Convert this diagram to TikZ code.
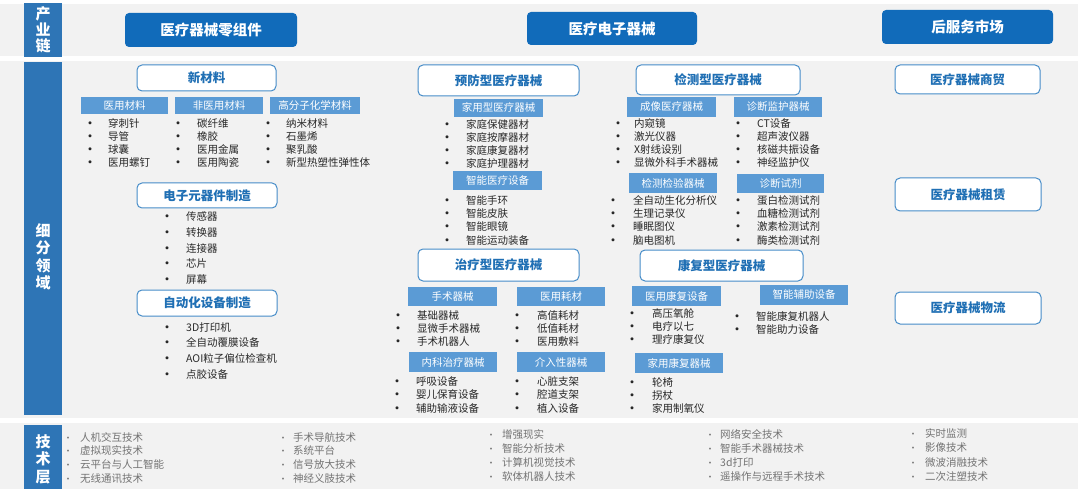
\documentclass[tikz,border=0pt]{standalone}
\usepackage{fontspec}
\setmainfont{Noto Sans CJK SC}
\definecolor{hdrblue}{RGB}{17,107,186}
\definecolor{sideblue}{RGB}{46,117,182}
\definecolor{lblue}{RGB}{91,155,213}
\definecolor{oborder}{RGB}{70,140,200}
\definecolor{otext}{RGB}{31,111,180}
\definecolor{bggray}{RGB}{242,242,242}
\definecolor{itemtext}{RGB}{40,40,40}
\definecolor{techtext}{RGB}{115,115,115}
\newcommand\bx[7]{%
  \node[#1, minimum width={(#5-#3)*1pt}, minimum height={(#6-#4)*1pt}] (#2) at ({(#3+#5)/2},{(#4+#6)/2}) {#7};}
\newcommand\mylist[7]{%
  \foreach \itm [count=\i from 0] in {#7} {
    \node[#1bul] (#2b\i) at (#3,{#5+#6*\i+4}) {•};
    \node[#1item] (#2\i) at (#4,{#5+#6*\i+4}) {\itm};
  }}
\begin{document}
\begin{tikzpicture}[x=1pt,y=-1pt,
  hdr/.style={fill=hdrblue, rounded corners=4pt, text=white, inner sep=0pt, font=\fontsize{14.5}{16}\selectfont\bfseries},
  side/.style={fill=sideblue, inner sep=0pt},
  sidetext/.style={text=white, align=center, inner sep=0pt},
  obox/.style={draw=oborder, line width=1pt, fill=white, rounded corners=5pt, text=otext, inner sep=0pt, font=\fontsize{12.5}{14}\selectfont\bfseries},
  lbox/.style={fill=lblue, text=white, inner sep=0pt, font=\fontsize{10.5}{12}\selectfont},
  nbul/.style={anchor=base, text=itemtext, inner sep=0pt, font=\fontsize{11}{12}\selectfont\bfseries},
  nitem/.style={anchor=base west, text=itemtext, inner sep=0pt, font=\fontsize{10.5}{12}\selectfont},
  tbul/.style={anchor=base, text=techtext, inner sep=0pt, font=\fontsize{9}{10}\selectfont},
  titem/.style={anchor=base west, text=techtext, inner sep=0pt, font=\fontsize{10.5}{12}\selectfont},
]
\useasboundingbox (0,0) rectangle (1080,492);
\fill[white] (0,0) rectangle (1080,492);
% bands
\fill[bggray] (0,4) rectangle (1078,56);
\fill[bggray] (0,61) rectangle (1078,418);
\fill[bggray] (0,423) rectangle (1078,489);
% side bars
\bx{side}{s1}{24}{3}{62}{57}{}
\bx{side}{s2}{24}{62}{62}{415}{}
\bx{side}{s3}{24}{425}{62}{489}{}
\node[sidetext, font=\fontsize{15}{16}\selectfont\bfseries] (s1t) at (43,30) {产\\业\\链};
\node[sidetext, font=\fontsize{15}{17.5}\selectfont\bfseries] (s2t) at (43,257) {细\\分\\领\\域};
\node[sidetext, font=\fontsize{15}{17.5}\selectfont\bfseries] (s3t) at (43,459) {技\\术\\层};
% headers
\bx{hdr}{h1}{125}{13}{297}{47}{医疗器械零组件}
\bx{hdr}{h2}{527}{12}{697}{45}{医疗电子器械}
\bx{hdr}{h3}{882}{10}{1053}{44}{后服务市场}
% outlined boxes
\bx{obox}{o1}{137}{65}{276}{91}{新材料}
\bx{obox}{o2}{137}{183}{277}{208}{电子元器件制造}
\bx{obox}{o3}{137}{290}{277}{316}{自动化设备制造}
\bx{obox}{o4}{418}{65}{579}{96}{预防型医疗器械}
\bx{obox}{o5}{636}{65}{800}{95}{检测型医疗器械}
\bx{obox}{o6}{418}{249}{579}{281}{治疗型医疗器械}
\bx{obox}{o7}{640}{250}{803}{281}{康复型医疗器械}
\bx{obox}{o8}{895}{65}{1040}{94}{医疗器械商贸}
\bx{obox}{o9}{895}{178}{1041}{211}{医疗器械租赁}
\bx{obox}{o10}{895}{292}{1041}{324}{医疗器械物流}
% label boxes
\bx{lbox}{l1}{81}{97}{168}{114}{医用材料}
\bx{lbox}{l2}{175}{97}{263}{114}{非医用材料}
\bx{lbox}{l3}{270}{97}{360}{114}{高分子化学材料}
\bx{lbox}{l4}{454}{99}{543}{117}{家用型医疗器械}
\bx{lbox}{l5}{627}{97}{716}{117}{成像医疗器械}
\bx{lbox}{l6}{734}{97}{822}{117}{诊断监护器械}
\bx{lbox}{l7}{453}{171}{542}{190}{智能医疗设备}
\bx{lbox}{l8}{629}{173}{717}{193}{检测检验器械}
\bx{lbox}{l9}{737}{174}{824}{193}{诊断试剂}
\bx{lbox}{l10}{408}{287}{497}{306}{手术器械}
\bx{lbox}{l11}{517}{287}{605}{306}{医用耗材}
\bx{lbox}{l12}{409}{352}{497}{372}{内科治疗器械}
\bx{lbox}{l13}{517}{352}{605}{372}{介入性器械}
\bx{lbox}{l14}{632}{286}{721}{306}{医用康复设备}
\bx{lbox}{l15}{760}{285}{848}{305}{智能辅助设备}
\bx{lbox}{l16}{635}{353}{723}{373}{家用康复器械}
% lists
\mylist{n}{ma}{90}{108}{124}{12.7}{穿刺针,导管,球囊,医用螺钉}
\mylist{n}{mb}{178}{197}{124}{12.7}{碳纤维,橡胶,医用金属,医用陶瓷}
\mylist{n}{mc}{268}{286}{124}{12.7}{纳米材料,石墨烯,聚乳酸,新型热塑性弹性体}
\mylist{n}{ec}{167}{186}{217}{15.6}{传感器,转换器,连接器,芯片,屏幕}
\mylist{n}{au}{167}{186}{327}{15.7}{3D打印机,全自动覆膜设备,AOI粒子偏位检查机,点胶设备}
\mylist{n}{pa}{447}{466}{125}{12.8}{家庭保健器材,家庭按摩器材,家庭康复器材,家庭护理器材}
\mylist{n}{pb}{447}{466}{201}{13}{智能手环,智能皮肤,智能眼镜,智能运动装备}
\mylist{n}{da}{618}{634}{124}{13}{内窥镜,激光仪器,X射线设别,显微外科手术器械}
\mylist{n}{db}{738}{757}{124}{13}{CT设备,超声波仪器,核磁共振设备,神经监护仪}
\mylist{n}{dc}{613}{633}{201}{13}{全自动生化分析仪,生理记录仪,睡眠图仪,脑电图机}
\mylist{n}{dd}{738}{757}{201}{13}{蛋白检测试剂,血糖检测试剂,激素检测试剂,酶类检测试剂}
\mylist{n}{ta}{398}{417}{315}{13}{基础器械,显微手术器械,手术机器人}
\mylist{n}{tb}{517}{537}{315}{13}{高值耗材,低值耗材,医用敷料}
\mylist{n}{tc}{397}{416}{381}{13.5}{呼吸设备,婴儿保育设备,辅助输液设备}
\mylist{n}{td}{517}{537}{381}{13.5}{心脏支架,腔道支架,植入设备}
\mylist{n}{ra}{632}{652}{313}{13}{高压氧舱,电疗以七,理疗康复仪}
\mylist{n}{rb}{737}{756}{316}{13}{智能康复机器人,智能助力设备}
\mylist{n}{rc}{632}{652}{382}{13}{轮椅,拐杖,家用制氧仪}
% technology
\mylist{t}{ka}{68}{80}{437}{13.8}{人机交互技术,虚拟现实技术,云平台与人工智能,无线通讯技术}
\mylist{t}{kb}{283}{293}{437}{13.8}{手术导航技术,系统平台,信号放大技术,神经义肢技术}
\mylist{t}{kc}{491}{502}{434}{14.2}{增强现实,智能分析技术,计算机视觉技术,软体机器人技术}
\mylist{t}{kd}{710}{720}{434}{14.2}{网络安全技术,智能手术器械技术,3d打印,遥操作与远程手术技术}
\mylist{t}{ke}{913}{925}{433}{14.5}{实时监测,影像技术,微波消融技术,二次注塑技术}
\end{tikzpicture}
\end{document}
